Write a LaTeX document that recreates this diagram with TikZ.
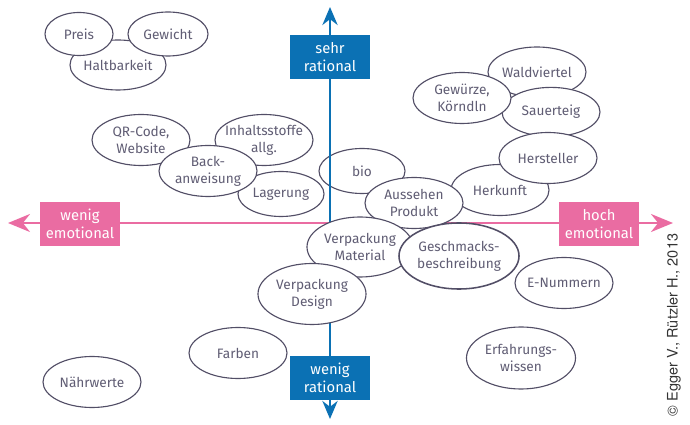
\documentclass[tikz,border=0pt]{standalone}
\usepackage{fontspec}
\setmainfont{Fira Sans}
\newfontfamily\creditfont{TeX Gyre Heros}
\usepackage{tikz}
\usetikzlibrary{shapes.geometric,arrows.meta}
\definecolor{ratBlue}{RGB}{11,113,180}
\definecolor{emoPink}{RGB}{234,108,162}
\definecolor{bubbleText}{RGB}{96,93,116}
\definecolor{bubbleLine}{RGB}{82,78,102}

\begin{document}
\begin{tikzpicture}[x=0.025cm, y=-0.025cm, every node/.style={align=center},
    bubble/.style={ellipse, draw=bubbleLine, line width=0.8pt, fill=white, text=bubbleText,
        inner sep=-12pt, minimum width=2.45cm, minimum height=1.275cm,
        font=\fontsize{9.7}{12}\selectfont},
    axisbox/.style={rectangle, text=white, inner sep=0pt, minimum width=2cm, minimum height=1.1cm,
        font=\fontsize{10.5}{13}\selectfont}]
    \useasboundingbox (0,0) rectangle (690,425);

    % top left group
    \node[bubble, minimum width=2.4cm, minimum height=1.25cm] (haltbar) at (118,65) {Haltbarkeit};
    \node[bubble, minimum width=1.7cm, minimum height=1.075cm] (preis) at (79,34) {Preis};
    \node[bubble, minimum width=2cm, minimum height=1.1cm] (gewicht) at (168,34) {Gewicht};

    \node[bubble] (qrcode) at (141,140) {QR-Code,\\Website};
    \node[bubble] (inhalt) at (264,140) {Inhaltsstoffe\\allg.};
    \node[bubble, minimum width=2.15cm, minimum height=1.125cm] (lagerung) at (281,194) {Lagerung};
    \node[bubble] (backanw) at (208,171) {Back-\\anweisung};

    % top right group
    \node[bubble, minimum height=1.25cm] (waldv) at (537,72) {Waldviertel};
    \node[bubble, minimum height=1.23cm] (sauert) at (551,112) {Sauerteig};
    \node[bubble] (gewuerze) at (462,98) {Gewürze,\\Körndln};
    \node[bubble] (herkunft) at (500,190) {Herkunft};
    \node[bubble] (herst) at (548,158) {Hersteller};

    \node[bubble, minimum width=2.15cm, minimum height=1.125cm] (bio) at (362,171) {bio};

    % axes
    \coordinate (ratTop) at (330,7);
    \coordinate (ratBot) at (330,419);
    \coordinate (emoLeft) at (8,223);
    \coordinate (emoRight) at (673,223);
    \draw[emoPink, line width=1.9pt, {Stealth[length=0.55cm, width=0.45cm]}-{Stealth[length=0.55cm, width=0.45cm]}]
        (emoLeft) -- (emoRight);
    \draw[ratBlue, line width=1.9pt, {Stealth[length=0.45cm, width=0.38cm]}-{Stealth[length=0.45cm, width=0.38cm]}]
        (ratBot) -- (ratTop);

    % centre group
    \node[bubble] (aussehen) at (414,203) {Aussehen\\Produkt};
    \node[bubble, minimum width=2.65cm, minimum height=1.5cm] (vpmat) at (360,247) {Verpackung\\Material};
    \node[bubble, minimum width=2.7cm, minimum height=1.525cm] (vpdesign) at (312,294) {Verpackung\\Design};
    \node[bubble, line width=1.1pt, minimum width=3cm, minimum height=1.65cm] (geschmack) at (459,256) {Geschmacks-\\beschreibung};

    \node[bubble] (enummern) at (564,283) {E-Nummern};
    \node[bubble, minimum width=2.725cm, minimum height=1.55cm] (erfahrung) at (521,358) {Erfahrungs-\\wissen};
    \node[bubble] (farben) at (238,353) {Farben};
    \node[bubble] (naehrw) at (92,382) {Nährwerte};

    % axis labels
    \node[axisbox, fill=ratBlue] (sehrRat) at (330,57) {sehr\\rational};
    \node[axisbox, fill=ratBlue] (wenigRat) at (330,378) {wenig\\rational};
    \node[axisbox, fill=emoPink] (wenigEmo) at (80,224) {wenig\\emotional};
    \node[axisbox, fill=emoPink] (hochEmo) at (599,224) {hoch\\emotional};

    \node[rotate=90, text=black!80, font=\creditfont\fontsize{10.3}{12}\selectfont] (credit) at (674,325)
        {© Egger V., Rützler H., 2013};
\end{tikzpicture}
\end{document}
